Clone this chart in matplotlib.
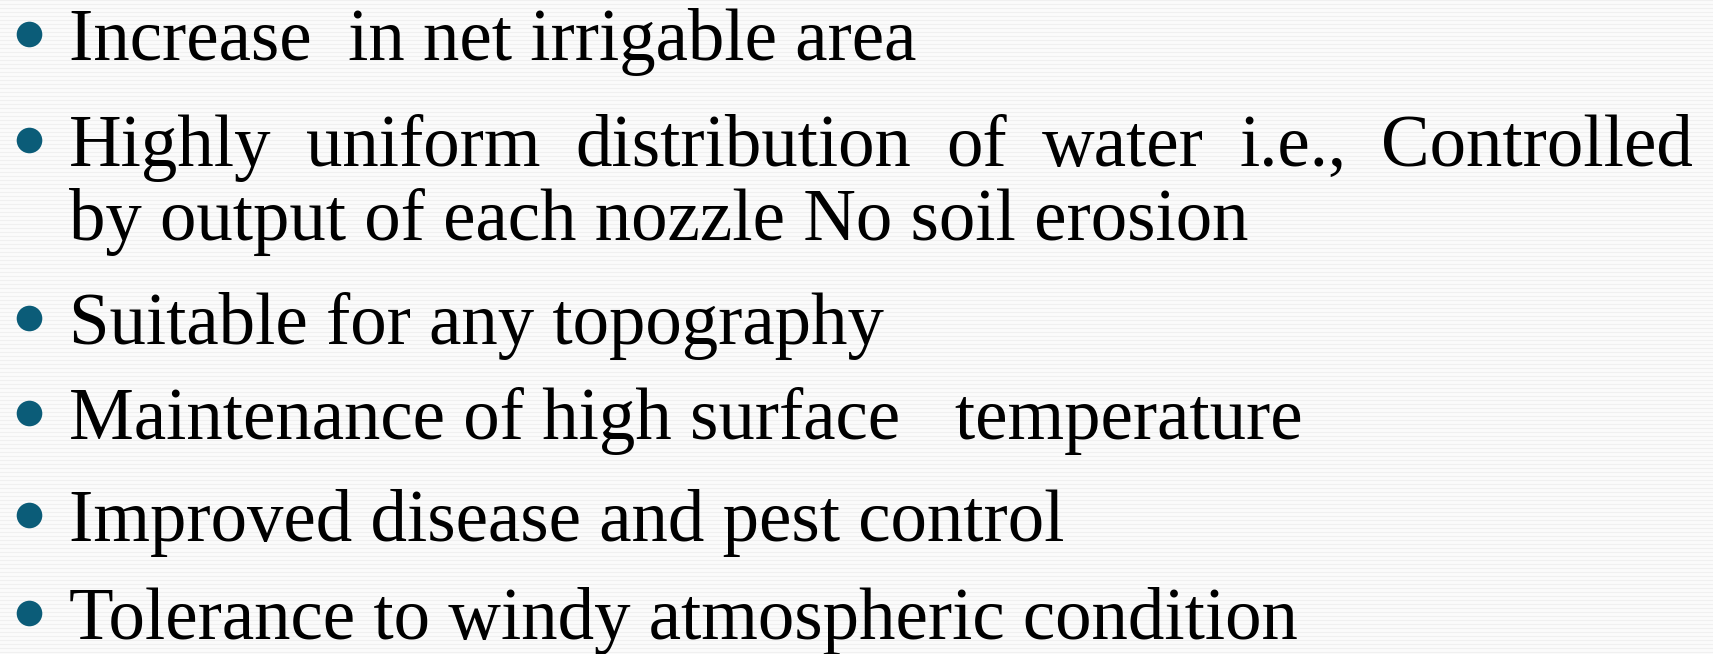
import matplotlib.pyplot as plt

# Slide content
lines = [
    "Increase  in net irrigable area",
    "Highly uniform distribution of water i.e., Controlled",
    "by output of each nozzle No soil erosion",
    "Suitable for any topography",
    "Maintenance of high surface   temperature",
    "Improved disease and pest control",
    "Tolerance to windy atmospheric condition",
]
has_bullet = [True, True, False, True, True, True, True]
justified = [False, True, False, False, False, False, False]

# baselines in pixels from top
baselines = [60, 166, 240, 344, 439, 541, 639]

W, H = 1713, 654
text_x = 69
right_x = 1693
bullet_x = 29
bullet_color = "#0b5c78"
font = "Liberation Serif"
fsize = 52.5

fig = plt.figure(figsize=(W / 100, H / 100), dpi=100)
fig.patch.set_facecolor("#fbfbfb")
ax = fig.add_axes([0, 0, 1, 1])
ax.set_xlim(0, W)
ax.set_ylim(H, 0)
ax.axis("off")

# faint horizontal stripes in the background
for y in range(0, H, 4):
    ax.axhline(y, color="#f0f0f0", lw=0.8, zorder=0)

renderer = fig.canvas.get_renderer()

for line, bullet, just, base in zip(lines, has_bullet, justified, baselines):
    if bullet:
        ax.scatter([bullet_x], [base - 26], s=340, color=bullet_color,
                   linewidths=0, zorder=3)
    if not just:
        ax.text(text_x, base, line, fontsize=fsize, family=font,
                va="baseline", ha="left", color="black", zorder=4)
        continue
    words = line.split()
    arts = [ax.text(0, base, w, fontsize=fsize, family=font,
                    va="baseline", ha="left", color="black", zorder=4)
            for w in words]
    inv = ax.transData.inverted()
    widths = []
    for a in arts:
        bb = a.get_window_extent(renderer)
        x0 = inv.transform((bb.x0, bb.y0))[0]
        x1 = inv.transform((bb.x1, bb.y0))[0]
        widths.append(x1 - x0)
    gap = (right_x - text_x - sum(widths)) / (len(words) - 1)
    x = text_x
    for a, w in zip(arts, widths):
        a.set_x(x)
        x += w + gap

fig.savefig("out.png", dpi=100, facecolor=fig.get_facecolor())
